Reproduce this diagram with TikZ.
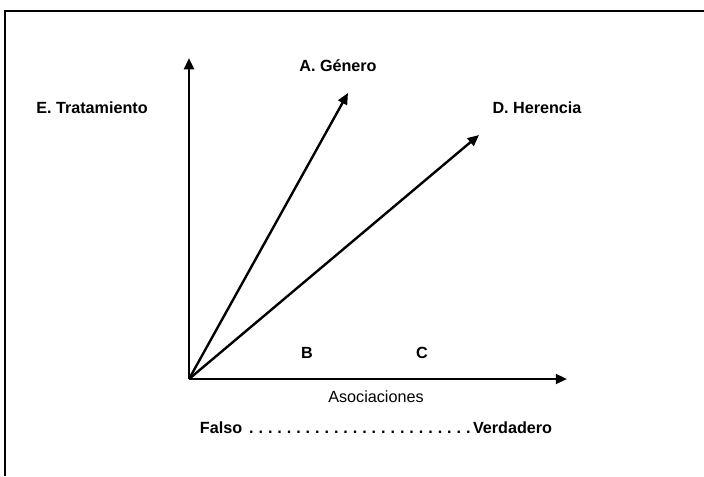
\documentclass[tikz,border=0pt]{standalone}
\usepackage{fontspec}
\setmainfont{Liberation Sans}
\usepackage{tikz}
\usetikzlibrary{arrows.meta}
\usepackage{tkz-euclide}

\tikzset{
  vec/.style={line width=1.7pt, -{Triangle[length=8pt, width=7pt]}},
  lbl/.style={font=\fontsize{11.5}{13}\selectfont\bfseries, inner sep=0pt}
}

\begin{document}
\begin{tikzpicture}[x=0.025cm, y=-0.025cm]
            \useasboundingbox (0,0) rectangle (704,476);
            \tkzDefPoints{189/379/O, 189/58/Y, 567/379/X, 348/93/A, 479/135/D, 5/476/P, 5/11/Q, 704/11/R}
            \draw[line width=1.8pt] (P) -- (Q) -- (R);
            \draw[vec] (O) -- (Y);
            \draw[vec] (O) -- (X);
            \draw[vec] (O) -- (A);
            \draw[vec] (O) -- (D);
            %\tkzDrawPoints(O,A,D)
            \node[lbl] (genero) at (338,66) {A. Género};
            \node[lbl] (trat) at (92,108) {E. Tratamiento};
            \node[lbl] (herencia) at (537,108) {D. Herencia};
            \node[lbl] (b) at (307,353) {B};
            \node[lbl] (c) at (422,353) {C};
            \node[font=\fontsize{11.5}{13}\selectfont, inner sep=0pt] (asoc) at (376,397) {Asociaciones};
            \node[lbl] (escala) at (376,428)
              {\makebox[8.8cm]{Falso\ \xleaders\hbox to 0.235cm{\hss.\hss}\hfill Verdadero}};
        \end{tikzpicture}
\end{document}
